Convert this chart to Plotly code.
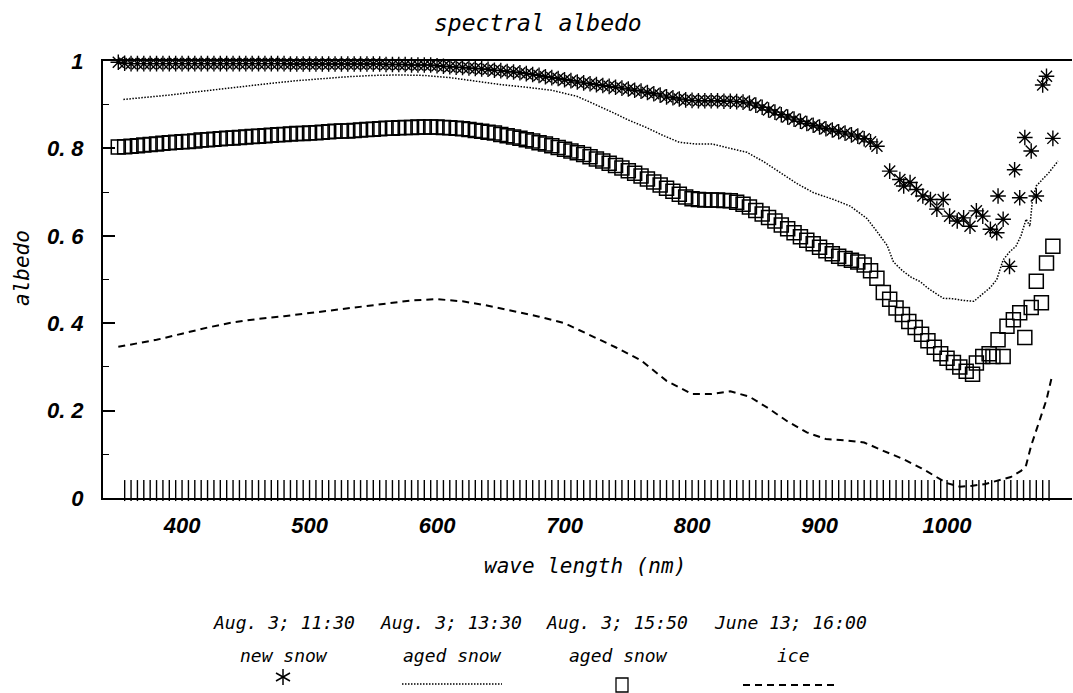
import plotly.graph_objects as go

# ---------------- data ----------------
# new snow (Aug. 3; 11:30) - dense part, 5 nm step 350..945
new_wl = list(range(350, 950, 5))
new_v = [
    .997, .995, .994, .994, .994, .994, .994, .994, .994, .994,
    .994, .994, .994, .994, .994, .994, .994, .994, .994, .994,
    .994, .994, .994, .994, .994, .994, .994, .993, .993, .993,
    .993, .993, .993, .993, .993, .993, .993, .993, .993, .993,
    .993, .993, .992, .992, .992, .992, .991, .991, .991, .991,
    .989, .988, .987, .986, .985, .984, .983, .982, .981, .979,
    .978, .976, .975, .973, .971, .969, .967, .964, .962, .960,
    .957, .955, .952, .950, .948, .946, .944, .942, .940, .938,
    .936, .933, .931, .928, .925, .922, .918, .916, .913, .911,
    .910, .909, .909, .909, .909, .908, .908, .907, .906, .904,
    .899, .894, .888, .883, .877, .872, .867, .862, .857, .853,
    .849, .845, .842, .838, .835, .831, .828, .822, .815, .805,
]
# new snow - sparse/noisy tail
new_tail_wl = [955, 963, 966, 971, 976, 981, 987, 992, 997, 1002, 1008, 1013, 1018,
               1023, 1028, 1034, 1039, 1040, 1044, 1049, 1053, 1057, 1061, 1066,
               1070, 1075, 1078, 1083]
new_tail_v = [.748, .729, .714, .722, .706, .691, .683, .661, .683, .645, .634, .641, .622,
              .657, .645, .615, .607, .691, .638, .530, .751, .687, .825, .794,
              .691, .945, .965, .823]

# aged snow (Aug. 3; 13:30) - dotted line
aged_wl = [354, 370, 390, 410, 430, 450, 470, 490, 510, 530, 550, 570, 590, 610, 630,
           650, 670, 690, 710, 725, 738, 750, 764, 777, 790, 803, 816, 830, 843, 856,
           869, 882, 895, 911, 924, 937, 945, 953, 958, 965, 972, 979, 985, 991, 997,
           1005, 1013, 1021, 1028, 1034, 1039, 1044, 1049, 1054, 1058, 1062, 1065,
           1067, 1070, 1075, 1080, 1087]
aged_v = [.912, .916, .922, .929, .936, .943, .949, .955, .960, .964, .967, .968, .967, .962, .954,
          .946, .940, .933, .919, .900, .882, .865, .848, .830, .814, .810, .810, .800, .791, .770,
          .745, .720, .699, .683, .668, .640, .610, .578, .540, .520, .505, .495, .480, .468, .457,
          .456, .452, .450, .468, .482, .500, .545, .563, .576, .600, .638, .622,
          .683, .714, .729, .745, .771]

# aged snow (Aug. 3; 15:50) - squares, dense part 350..1020
sq_wl = list(range(350, 1025, 5))
sq_v = [
    .803, .804, .805, .806, .808, .809, .810, .812, .813, .814,
    .815, .816, .817, .819, .820, .821, .822, .823, .824, .825,
    .826, .827, .828, .829, .830, .831, .832, .833, .834, .834,
    .835, .836, .837, .838, .839, .840, .840, .841, .842, .843,
    .844, .845, .846, .846, .847, .848, .848, .849, .849, .849,
    .849, .848, .847, .846, .845, .843, .841, .839, .837, .835,
    .832, .829, .826, .823, .820, .817, .813, .810, .806, .802,
    .798, .794, .790, .786, .781, .776, .771, .766, .761, .755,
    .749, .743, .737, .730, .723, .716, .709, .702, .695, .689,
    .685, .683, .682, .682, .682, .681, .680, .677, .672, .666,
    .658, .650, .642, .634, .625, .616, .607, .598, .590, .582,
    .574, .566, .559, .553, .548, .544, .540, .533, .520, .503,
    .470, .455, .435, .420, .404, .390, .375, .360, .345, .330,
    .320, .310, .300, .290, .283,
]
sq_tail_wl = [1023, 1028, 1033, 1036, 1040, 1044, 1047, 1052, 1057, 1061, 1066, 1070,
              1074, 1078, 1083]
sq_tail_v = [.309, .324, .330, .324, .362, .324, .393, .408, .424, .367, .436, .496,
             .447, .538, .576]

# ice (June 13; 16:00) - dashed line
ice_wl = [350, 360, 380, 400, 420, 440, 460, 480, 500, 520, 540, 560, 580, 600, 620,
          640, 660, 680, 700, 720, 740, 760, 780, 800, 815, 830, 845, 860, 875, 890,
          905, 920, 935, 950, 965, 980, 992, 1000, 1010, 1020, 1030, 1040, 1050, 1058,
          1062, 1066, 1070, 1074, 1078, 1082]
ice_v = [.346, .351, .362, .376, .390, .402, .410, .416, .423, .430, .437, .445, .452, .455, .450,
         .440, .428, .415, .400, .372, .345, .315, .268, .238, .238, .244, .232, .205, .175, .150,
         .135, .132, .127, .108, .090, .068, .048, .034, .026, .028, .032, .040, .048, .062,
         .075, .120, .155, .185, .225, .275]

# comb of marks along the baseline
base_wl = list(range(355, 1085, 5))
base_v = [0.017] * len(base_wl)

y_tickvals = [0, 0.2, 0.4, 0.6, 0.8, 1]
y_ticktext = ["0", "0. 2", "0. 4", "0. 6", "0. 8", "1"]
x_tickvals = [400, 500, 600, 700, 800, 900, 1000]

legend_dates = ["Aug. 3; 11:30", "Aug. 3; 13:30", "Aug. 3; 15:50", "June 13; 16:00"]
legend_names = ["new snow", "aged snow", "aged snow", "ice"]

# ---------------- layout geometry (pixels) ----------------
W, H = 1073, 693
L, R, T, B = 103, 1072, 61, 498
PW, PH = R - L, B - T


def pp(xp, yp):
    return (xp - L) / PW, (B - yp) / PH


MONO = "DejaVu Sans Mono"
TICKF = "Liberation Sans Narrow, Liberation Sans, Arial"

fig = go.Figure()

fig.add_trace(go.Scatter(x=base_wl, y=base_v, mode="markers", cliponaxis=False,
                         marker=dict(symbol="line-ns-open", size=15, color="black",
                                     line=dict(color="black", width=1.4)),
                         showlegend=False, hoverinfo="skip"))
fig.add_trace(go.Scatter(x=ice_wl, y=ice_v, mode="lines", cliponaxis=False,
                         line=dict(color="black", width=2, dash="7px,5px"),
                         showlegend=False))
fig.add_trace(go.Scatter(x=aged_wl, y=aged_v, mode="lines", cliponaxis=False,
                         line=dict(color="black", width=1.5, dash="1.5px,1.5px"),
                         showlegend=False))
fig.add_trace(go.Scatter(x=sq_wl + sq_tail_wl, y=sq_v + sq_tail_v, mode="markers",
                         cliponaxis=False,
                         marker=dict(symbol="square-open", size=14, color="black",
                                     line=dict(color="black", width=1.5)),
                         showlegend=False))
fig.add_trace(go.Scatter(x=new_wl + new_tail_wl, y=new_v + new_tail_v, mode="markers",
                         cliponaxis=False,
                         marker=dict(symbol="asterisk-open", size=13, color="black",
                                     line=dict(color="black", width=1.4)),
                         showlegend=False))

fig.update_layout(
    width=W, height=H,
    margin=dict(l=L, r=W - R, t=T, b=H - B, pad=0),
    paper_bgcolor="white", plot_bgcolor="white",
    showlegend=False,
    xaxis=dict(range=[338, 1098], showgrid=False, zeroline=False,
               showline=True, linecolor="black", linewidth=2, mirror=True,
               tickvals=x_tickvals, ticks="", ticklabelstandoff=7,
               tickfont=dict(family=TICKF, size=22, color="black",
                             style="italic", weight="bold")),
    yaxis=dict(range=[0, 1], showgrid=False, zeroline=False,
               showline=True, linecolor="black", linewidth=2,
               tickvals=y_tickvals, ticktext=y_ticktext,
               ticks="inside", ticklen=12, tickwidth=1.5, tickcolor="black",
               ticklabelstandoff=13,
               minor=dict(dtick=0.1, ticks="inside", ticklen=6, tickwidth=1.2,
                          tickcolor="black"),
               tickfont=dict(family=TICKF, size=22, color="black",
                             style="italic", weight="bold")),
)

annotations = []


def txt(text, xp, yp, size, angle=0, family=MONO):
    x, y = pp(xp, yp)
    annotations.append(dict(text=text, x=x, y=y, xref="paper", yref="paper",
                            xanchor="center", yanchor="middle", showarrow=False,
                            textangle=angle,
                            font=dict(family=family, size=size, color="black",
                                      style="italic")))


txt("spectral albedo", 538, 23, 23)
txt("wave length (nm)", 585, 566, 21)
txt("albedo", 22, 268, 21, angle=-90)

date_x = [284, 451, 617, 790]
name_x = [284, 452, 618, 793]
for t, xp in zip(legend_dates, date_x):
    txt(t, xp, 622, 18)
for t, xp in zip(legend_names, name_x):
    txt(t, xp, 655, 18)

fig.update_layout(annotations=annotations)

shapes = []


def seg(x0, y0, x1, y1, width=1.5, dash="solid"):
    a0, b0 = pp(x0, y0)
    a1, b1 = pp(x1, y1)
    shapes.append(dict(type="line", xref="paper", yref="paper", x0=a0, y0=b0, x1=a1, y1=b1,
                       line=dict(color="black", width=width, dash=dash)))


# legend keys
cx, cy = 283, 677
seg(cx, cy - 8, cx, cy + 8)
seg(cx - 7, cy - 4, cx + 7, cy + 4)
seg(cx - 7, cy + 4, cx + 7, cy - 4)
seg(402, 684, 502, 684, width=1.3, dash="1.5px,1.5px")
sx0, sy0 = pp(616, 678)
sx1, sy1 = pp(628, 692)
shapes.append(dict(type="rect", xref="paper", yref="paper", x0=sx0, y0=sy0, x1=sx1, y1=sy1,
                   line=dict(color="black", width=1.3)))
seg(743, 685, 837, 685, width=2, dash="7px,5px")
fig.update_layout(shapes=shapes)

fig.write_html("out.html")
